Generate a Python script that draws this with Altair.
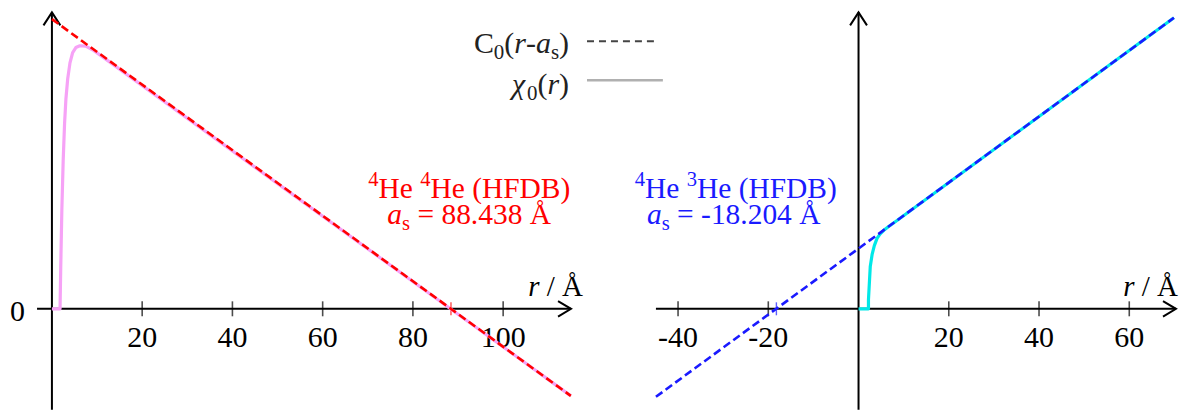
import altair as alt
import pandas as pd

# ---------------- data ----------------
AS_LEFT = 88.438          # 4He-4He scattering length (Å)
AS_RIGHT = -18.204        # 4He-3He scattering length (Å)

# left panel (4He 4He): asymptote C0(r-as) and wave function chi0(r)
left_line_r = [0.0, 115.0]
left_line_y = [64.2, -19.3]
left_chi_r = [0.0, 1.8, 1.95, 2.2, 2.5, 2.8, 3.1, 3.5, 4.0, 4.6, 5.3, 6.2, 7.5, 9.0, 11.0, 115.0]
left_chi_y = [0.0, 0.0, 9.0, 22.0, 33.0, 41.0, 46.5, 51.0, 54.5, 56.8, 57.9, 58.3, 58.2, 57.4, 56.0, -19.3]

# right panel (4He 3He)
right_line_r = [-44.9, 69.9]
right_line_y = [-19.5, 64.5]
right_chi_r = [0.0, 2.2, 2.2, 2.6, 3.0, 3.5, 4.1, 4.8, 5.6, 6.6, 8.0, 69.9]
right_chi_y = [0.0, 0.0, 2.0, 9.4, 12.0, 14.0, 15.6, 16.6, 17.4, 18.2, 19.2, 64.5]

left_ticks = [20, 40, 60, 80, 100]
right_ticks = [-40, -20, 20, 40, 60]

left_xaxis = [-3.3, 115.04]
right_xaxis = [-44.9, 70.35]
yaxis_top = 65.7

left_domain = [-9.735, 121.24]
right_domain = [-57.52, 70.80]
y_domain = [-22.35, 66.59]

W_LEFT, W_RIGHT, H = 592, 580, 402

RED = "#ff0000"
PINK = "#f6a2f6"
BLUE = "#1a1aff"
CYAN = "#00e8e8"
FONT = "Liberation Serif"
FS = 30

# Times / Liberation Serif advance widths (1/1000 em)
W_REG = {" ": 250, "(": 333, ")": 333, "-": 333, ".": 250, "=": 564, "/": 278,
         "A": 722, "Å": 722, "B": 667, "C": 667, "D": 722, "F": 556, "H": 722,
         "e": 444, "s": 389, "a": 444, "r": 333}
W_IT = {"a": 500, "r": 389, "s": 389, "χ": 500, " ": 250}


def cw(ch, italic):
    if ch.isdigit():
        return 500
    tab = W_IT if italic else W_REG
    return tab.get(ch, W_REG.get(ch, 500))


def rich(segments, x, y, size, color, align):
    """segments: list of (text, kind); kind in r, i, sub, isub, sup."""
    items = []
    total = 0.0
    for text, kind in segments:
        italic = kind in ("i", "isub")
        small = kind in ("sub", "isub", "sup")
        fs = size * 0.7 if small else size
        w = sum(cw(c, italic) for c in text) * fs / 1000
        lead = (len(text) - len(text.lstrip(" "))) * 250 * fs / 1000
        dy = 0.2 * size if kind in ("sub", "isub") else (-0.4 * size if kind == "sup" else 0)
        items.append((text.strip(), italic, fs, total + lead, dy))
        total += w
    if align == "right":
        start = x - total
    elif align == "center":
        start = x - total / 2
    else:
        start = x
    out = []
    for t, italic, fs, off, dy in items:
        if not t:
            continue
        out.append(
            alt.Chart(pd.DataFrame({"t": [t]}))
            .mark_text(align="left", baseline="alphabetic", font=FONT, fontSize=fs,
                       fontStyle="italic" if italic else "normal", color=color)
            .encode(x=alt.value(start + off), y=alt.value(y + dy), text="t:N")
        )
    return out


def panel(domain, width, xaxis, ticks, line_r, line_y, chi_r, chi_y, a_s,
          dash_color, chi_color, extra):
    xs = alt.Scale(domain=domain, nice=False, zero=False)
    ys = alt.Scale(domain=y_domain, nice=False, zero=False)

    def X(f):
        return alt.X(f, type="quantitative", scale=xs, axis=None)

    def Y(f):
        return alt.Y(f, type="quantitative", scale=ys, axis=None)

    layers = []
    # axes lines
    layers.append(
        alt.Chart(pd.DataFrame({"x0": [xaxis[0]], "x1": [xaxis[1]], "y": [0.0]}))
        .mark_rule(color="black", strokeWidth=2)
        .encode(x=X("x0"), x2=alt.X2("x1"), y=Y("y"))
    )
    layers.append(
        alt.Chart(pd.DataFrame({"x": [0.0], "y0": [y_domain[0]], "y1": [yaxis_top]}))
        .mark_rule(color="black", strokeWidth=2)
        .encode(x=X("x"), y=Y("y0"), y2=alt.Y2("y1"))
    )
    # arrow heads
    layers.append(
        alt.Chart(pd.DataFrame({"x": [xaxis[1]], "y": [0.0]}))
        .mark_point(shape="M -1 -0.6 L 0 0 L -1 0.6", size=676, filled=False,
                    color="black", strokeWidth=2, opacity=1)
        .encode(x=X("x"), y=Y("y"))
    )
    layers.append(
        alt.Chart(pd.DataFrame({"x": [0.0], "y": [yaxis_top]}))
        .mark_point(shape="M -0.65 1 L 0 0 L 0.65 1", size=676, filled=False,
                    color="black", strokeWidth=2, opacity=1)
        .encode(x=X("x"), y=Y("y"))
    )
    # ticks + labels
    tdf = pd.DataFrame({"t": ticks, "y": [0.0] * len(ticks), "lab": [str(t) for t in ticks]})
    layers.append(
        alt.Chart(tdf).mark_tick(orient="vertical", size=15, thickness=1.6, color="black")
        .encode(x=X("t"), y=Y("y"))
    )
    layers.append(
        alt.Chart(tdf).mark_text(dy=38, baseline="alphabetic", font=FONT, fontSize=FS,
                                 color="black")
        .encode(x=X("t"), y=Y("y"), text="lab:N")
    )
    layers.append(
        alt.Chart(pd.DataFrame({"t": [a_s], "y": [0.0]}))
        .mark_tick(orient="vertical", size=13, thickness=1.4, color=dash_color)
        .encode(x=X("t"), y=Y("y"))
    )
    # wave function (solid) then asymptote (dashed)
    layers.append(
        alt.Chart(pd.DataFrame({"r": chi_r, "v": chi_y, "i": list(range(len(chi_r)))}))
        .mark_line(color=chi_color, strokeWidth=3.2, strokeJoin="round")
        .encode(x=X("r"), y=Y("v"), order="i:Q")
    )
    layers.append(
        alt.Chart(pd.DataFrame({"r": line_r, "v": line_y}))
        .mark_line(color=dash_color, strokeDash=[8, 4], strokeWidth=2.6)
        .encode(x=X("r"), y=Y("v"))
    )
    layers.extend(extra)
    return alt.layer(*layers).properties(width=width, height=H)


# ---------------- left panel extras ----------------
left_extra = []
left_extra.append(
    alt.Chart(pd.DataFrame({"x": [0.0], "y": [0.0], "lab": ["0"]}))
    .mark_text(dx=-34.5, dy=12.7, baseline="alphabetic", font=FONT, fontSize=FS, color="black")
    .encode(x=alt.X("x:Q", scale=alt.Scale(domain=left_domain, nice=False, zero=False), axis=None),
            y=alt.Y("y:Q", scale=alt.Scale(domain=y_domain, nice=False, zero=False), axis=None),
            text="lab:N")
)
left_extra += rich([("4", "sup"), ("He ", "r"), ("4", "sup"), ("He (HFDB)", "r")],
                   462, 190, 29.5, RED, "center")
left_extra += rich([("a", "i"), ("s", "sub"), (" = 88.438 Å", "r")],
                   462, 216, 29.5, RED, "center")
left_extra += rich([("r", "i"), (" / Å", "r")], 576, 288, 29, "black", "right")
# legend
left_extra += rich([("C", "r"), ("0", "sub"), ("(", "r"), ("r", "i"), ("-", "r"),
                    ("a", "i"), ("s", "sub"), (")", "r")], 562, 45, 30, "#222222", "right")
left_extra += rich([("χ", "i"), ("0", "sub"), ("(", "r"), ("r", "i"), (")", "r")],
                   562, 86, 30, "#222222", "right")
left_extra.append(
    alt.Chart(pd.DataFrame({"k": ["C0(r-as)"]}))
    .mark_rule(color="#444444", strokeDash=[7, 5], strokeWidth=2)
    .encode(x=alt.value(580), x2=alt.value(650), y=alt.value(33))
)
left_extra.append(
    alt.Chart(pd.DataFrame({"k": ["chi0(r)"]}))
    .mark_rule(color="#b0b0b0", strokeWidth=2.5)
    .encode(x=alt.value(580), x2=alt.value(656), y=alt.value(72))
)

# ---------------- right panel extras ----------------
right_extra = []
right_extra += rich([("4", "sup"), ("He ", "r"), ("3", "sup"), ("He (HFDB)", "r")],
                    137, 190, 29.5, BLUE, "center")
right_extra += rich([("a", "i"), ("s", "sub"), (" = -18.204 Å", "r")],
                    135, 216, 29.5, BLUE, "center")
right_extra += rich([("r", "i"), (" / Å", "r")], 580, 288, 29, "black", "right")

left = panel(left_domain, W_LEFT, left_xaxis, left_ticks, left_line_r, left_line_y,
             left_chi_r, left_chi_y, AS_LEFT, RED, PINK, left_extra)
right = panel(right_domain, W_RIGHT, right_xaxis, right_ticks, right_line_r, right_line_y,
              right_chi_r, right_chi_y, AS_RIGHT, BLUE, CYAN, right_extra)

chart = (
    alt.hconcat(left, right, spacing=0, bounds="flush")
    .properties(padding=0)
    .configure(background="white", view=alt.ViewConfig(stroke="transparent", strokeWidth=0))
)

chart.save("out.html", embed_options={"renderer": "svg", "actions": False})
